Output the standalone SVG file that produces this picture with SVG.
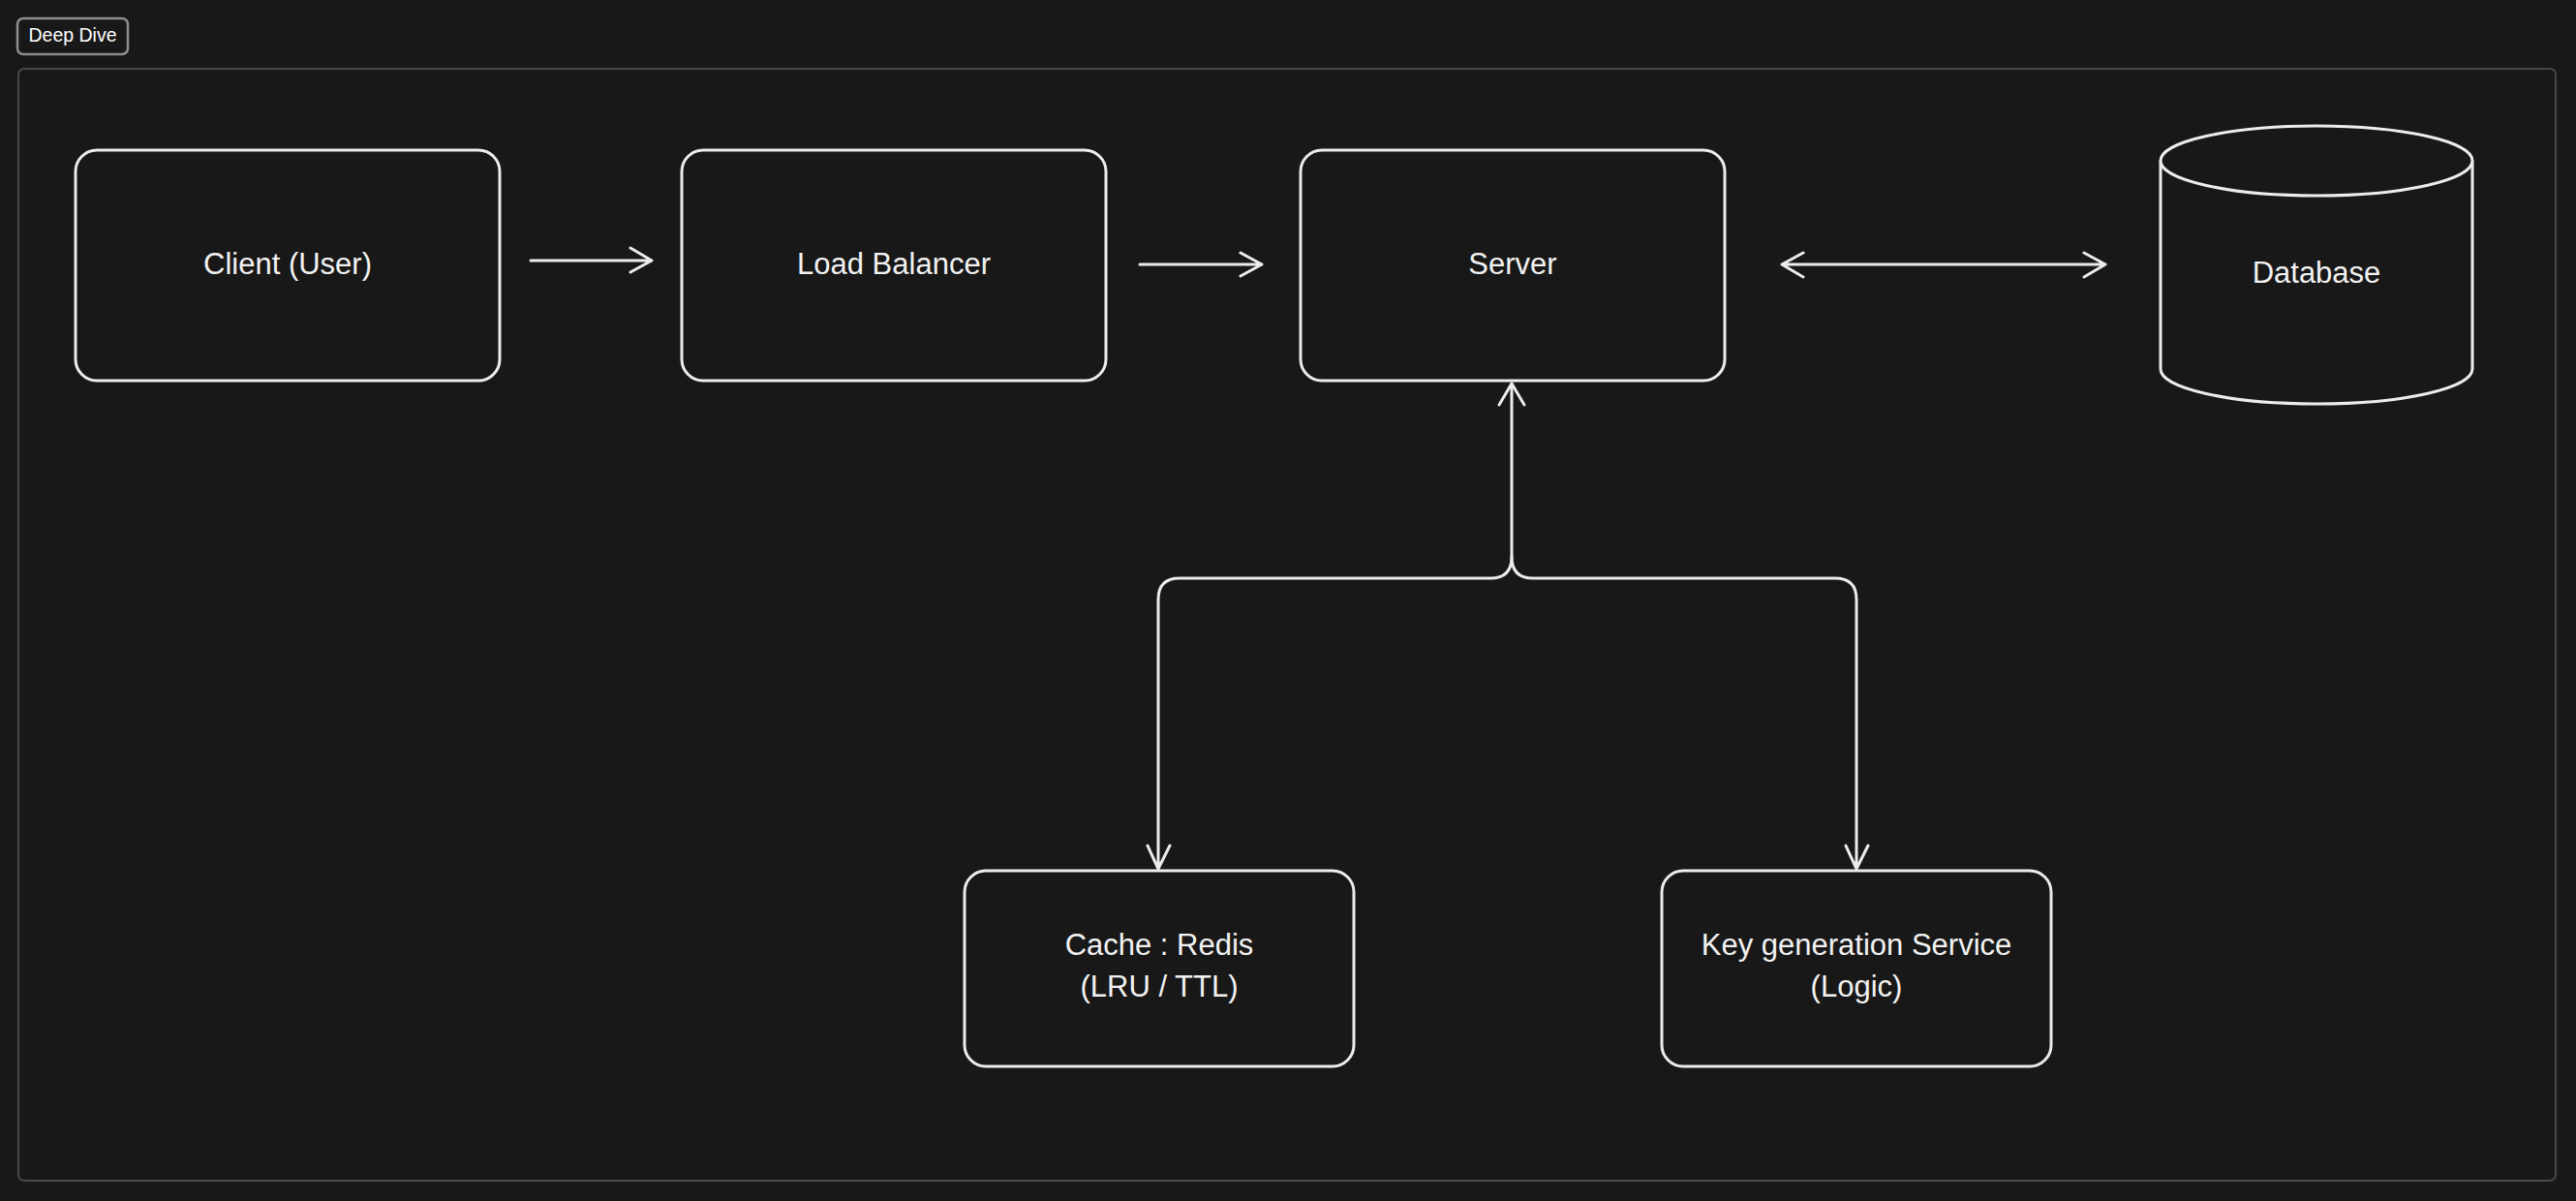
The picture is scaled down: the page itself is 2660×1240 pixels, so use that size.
<svg xmlns="http://www.w3.org/2000/svg" width="2660" height="1240" viewBox="0 0 2660 1240">
<style>
.bg{fill:#181818}
.node{fill:#181818;stroke:#ececec;stroke-width:3;stroke-linejoin:round}
.lbl{font-family:"Liberation Sans",Arial,Helvetica,sans-serif;font-size:31px;fill:#f2f2f2;text-anchor:middle}
.con{fill:none;stroke:#ececec;stroke-width:3;stroke-linecap:round;stroke-linejoin:round}
</style>
<rect class="bg" x="0" y="0" width="2660" height="1240"/>
<g id="frame">
<rect x="19" y="71" width="2620" height="1148" rx="6" fill="none" stroke="#474849" stroke-width="2"/>
</g>
<g id="badge">
<rect x="18" y="19" width="114" height="37" rx="6" fill="#181818" stroke="#8c8c8c" stroke-width="2.5"/>
<text x="75" y="43" font-family="'Liberation Sans',Arial,sans-serif" font-size="19.5" fill="#ffffff" text-anchor="middle">Deep Dive</text>
</g>
<g id="client">
<rect class="node" x="78" y="155" width="438" height="238" rx="22"/>
<text class="lbl" x="297" y="283">Client (User)</text>
</g>
<g id="loadbalancer">
<rect class="node" x="704" y="155" width="438" height="238" rx="22"/>
<text class="lbl" x="923" y="283">Load Balancer</text>
</g>
<g id="server">
<rect class="node" x="1343" y="155" width="438" height="238" rx="22"/>
<text class="lbl" x="1562" y="283">Server</text>
</g>
<g id="database">
<path class="node" d="M2231 166 L2231 381 A161 36 0 0 0 2553 381 L2553 166"/>
<ellipse class="node" cx="2392" cy="166" rx="161" ry="36"/>
<text class="lbl" x="2392" y="292">Database</text>
</g>
<g id="cache">
<rect class="node" x="996" y="899" width="402" height="202" rx="22"/>
<text class="lbl" x="1197" y="986">Cache : Redis</text>
<text class="lbl" x="1197" y="1029">(LRU / TTL)</text>
</g>
<g id="keygen">
<rect class="node" x="1716" y="899" width="402" height="202" rx="22"/>
<text class="lbl" x="1917" y="986">Key generation Service</text>
<text class="lbl" x="1917" y="1029">(Logic)</text>
</g>
<g id="connectors">
<path class="con" d="M548 269 L673 269 M651 256 L673 269 L651 281"/>
<path class="con" d="M1177 273 L1303 273 M1281 261 L1303 273 L1281 285"/>
<path class="con" d="M1840 273 L2174 273 M1862 261 L1840 273 L1862 286 M2152 261 L2174 273 L2152 286"/>
<path class="con" d="M1561 396 L1561 575 Q1561 597 1539 597 L1218 597 Q1196 597 1196 619 L1196 897 M1185 873 L1196 897 L1208 873"/>
<path class="con" d="M1561 575 Q1561 597 1583 597 L1895 597 Q1917 597 1917 619 L1917 897 M1906 873 L1917 897 L1929 873"/>
<path class="con" d="M1548 418 L1561 396 L1574 418"/>
</g>
</svg>
